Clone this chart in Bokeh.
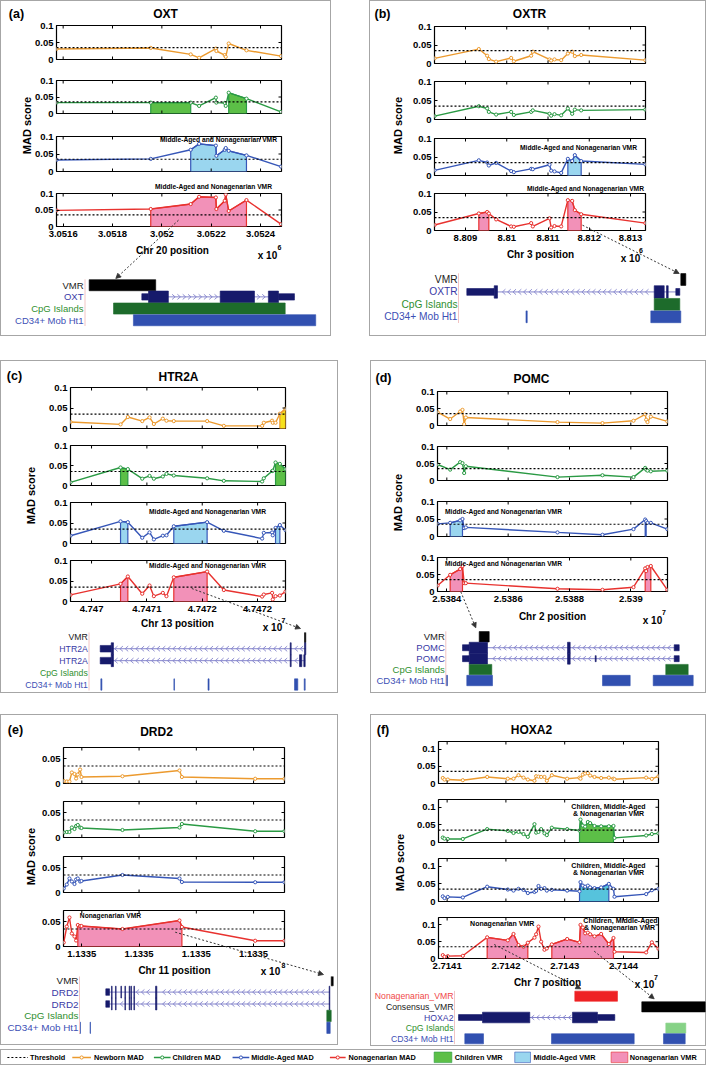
import numpy as np
from bokeh.plotting import figure
from bokeh.models import (Range1d, FixedTicker, Arrow, NormalHead, Span,
                          Spacer, Row, Column)
from bokeh.embed import file_html
from bokeh.resources import INLINE
from bokeh.core.properties import value

FONT = "Liberation Sans"
THRESHOLD = 0.035
SERIES = ["newborn", "children", "middle", "nona"]

# ------------------------------------------------------------------ data
# (a) OXT, chr20
a_pos = [3051573, 3051955, 3052117, 3052151, 3052219, 3052221, 3052255, 3052259, 3052271, 3052343, 3052483]
a_newborn = [0.031, 0.034, 0.015, 0.005, 0.032, 0.025, 0.013, 0.008, 0.047, 0.027, 0.010]
a_children = [0.033, 0.033, 0.033, 0.023, 0.048, 0.033, 0.032, 0.023, 0.063, 0.045, 0.005]
a_middle = [0.033, 0.036, 0.062, 0.079, 0.074, 0.045, 0.062, 0.067, 0.059, 0.046, 0.014]
a_nona = [0.049, 0.053, 0.068, 0.090, 0.088, 0.053, 0.078, 0.097, 0.047, 0.080, 0.007]
a_fills = {"children": [(3051955, 3052117), (3052271, 3052343)],
           "middle": [(3052117, 3052343)],
           "nona": [(3051955, 3052343)]}
a_xticks = [3051600, 3051800, 3052000, 3052200, 3052400]
a_xticklabels = ["3.0516", "3.0518", "3.052", "3.0522", "3.0524"]
a_track_labels = ["VMR", "OXT", "CpG Islands", "CD34+ Mob Ht1"]
a_track_kinds = ["vmr", "gene", "cpg", "cd34"]
a_track_data = [[(3051955, 3052343)],
                dict(line=(3052262, 3053152), utr=[(3052262, 3052301), (3053059, 3053152)],
                     exon=[(3052301, 3052417), (3052719, 3052919), (3053000, 3053059)], strand="+"),
                [(3052097, 3053098)],
                [(3052213, 3053276)]]

# (b) OXTR, chr3
b_pos = [8808250, 8809323, 8809525, 8809566, 8809743, 8810107, 8810172, 8810592, 8810632,
         8811036, 8811077, 8811157, 8811319, 8811481, 8811586, 8811650, 8811804, 8813360]
b_newborn = [0.014, 0.039, 0.021, 0.012, 0.005, 0.015, 0.006, 0.021, 0.032, 0.011, 0.008, 0.011, 0.009, 0.027, 0.032, 0.020, 0.023, 0.009]
b_children = [0.009, 0.035, 0.029, 0.020, 0.013, 0.020, 0.012, 0.020, 0.024, 0.015, 0.010, 0.014, 0.011, 0.029, 0.015, 0.026, 0.024, 0.026]
b_middle = [0.014, 0.041, 0.035, 0.027, 0.034, 0.012, 0.009, 0.018, 0.017, 0.029, 0.013, 0.011, 0.007, 0.045, 0.039, 0.055, 0.039, 0.030]
b_nona = [0.015, 0.046, 0.050, 0.046, 0.030, 0.011, 0.010, 0.020, 0.011, 0.033, 0.008, 0.012, 0.011, 0.082, 0.080, 0.055, 0.044, 0.020]
b_fills = {"middle": [(8811481, 8811804)],
           "nona": [(8809323, 8809566), (8811481, 8811804)]}
b_xticks = [8809000, 8810000, 8811000, 8812000, 8813000]
b_xticklabels = ["8.809", "8.81", "8.811", "8.812", "8.813"]
b_track_labels = ["VMR", "OXTR", "CpG Islands", "CD34+ Mob Ht1"]
b_track_kinds = ["vmr", "gene", "cpg", "cd34"]
b_track_data = [[(8811481, 8811804)],
                dict(line=(8797657, 8811416), utr=[(8797657, 8799427), (8811158, 8811416)],
                     exon=[(8799427, 8799640), (8809763, 8810409), (8810557, 8810667)], strand="-"),
                [(8809763, 8811416)],
                [(8801480, 8801560), (8809543, 8811481)]]

# (c) HTR2A, chr13
c_pos = [47469810, 47470262, 47470328, 47470458, 47470524, 47470563, 47470644, 47470677, 47470743,
         47471044, 47471195, 47471541, 47471556, 47471631, 47471637, 47471662, 47471701, 47471752]
c_newborn = [0.016, 0.010, 0.028, 0.018, 0.027, 0.011, 0.024, 0.019, 0.018, 0.018, 0.0065, 0.0065, 0.014, 0.019, 0.014, 0.014, 0.036, 0.048]
c_children = [0.008, 0.045, 0.041, 0.017, 0.024, 0.017, 0.0225, 0.029, 0.025, 0.018, 0.0117, 0.010, 0.018, 0.036, 0.037, 0.0575, 0.054, 0.041]
c_middle = [0.019, 0.054, 0.052, 0.014, 0.027, 0.010, 0.019, 0.020, 0.042, 0.052, 0.031, 0.012, 0.026, 0.027, 0.020, 0.038, 0.045, 0.0325]
c_nona = [0.016, 0.043, 0.061, 0.019, 0.039, 0.013, 0.021, 0.013, 0.059, 0.073, 0.028, 0.012, 0.017, 0.021, 0.005, 0.013, 0.0146, 0.024]
c_fills = {"newborn": [(47471701, 47471752)],
           "children": [(47470262, 47470328), (47471662, 47471752)],
           "middle": [(47470262, 47470328), (47470743, 47471044), (47471662, 47471701)],
           "nona": [(47470262, 47470328), (47470743, 47471044)]}
c_xticks = [47470000, 47470500, 47471000, 47471500]
c_xticklabels = ["4.747", "4.7471", "4.7472", "4.7472"]
c_track_labels = ["VMR", "HTR2A", "HTR2A", "CpG Islands", "CD34+ Mob Ht1"]
c_track_kinds = ["vmr", "gene", "gene", "cpg", "cd34"]
c_track_data = [[(47470743, 47471044)],
                dict(line=(47423754, 47471042), utr=[(47423754, 47426284)],
                     exon=[(47426284, 47426813), (47467454, 47467684), (47470743, 47471042)], strand="-"),
                dict(line=(47423754, 47470904), utr=[(47423754, 47426284)],
                     exon=[(47426284, 47426813), (47467454, 47467684), (47469593, 47470122), (47470582, 47470904)], strand="-"),
                [],
                [(47423900, 47424150), (47440700, 47440850), (47448550, 47448800), (47468443, 47469202), (47470674, 47470904)]]

# (d) POMC, chr2
d_pos = [25383700, 25384109, 25384435, 25384511, 25384565, 25384620, 25387609, 25389076, 25390087,
         25390468, 25390500, 25390544, 25390652, 25391190]
d_newborn = [0.039, 0.019, 0.041, 0.046, 0.004, 0.0235, 0.010, 0.007, 0.014, 0.033, 0.017, 0.010, 0.026, 0.012]
d_children = [0.047, 0.032, 0.054, 0.051, 0.022, 0.042, 0.010, 0.0155, 0.010, 0.037, 0.032, 0.029, 0.027, 0.029]
d_middle = [0.036, 0.039, 0.046, 0.050, 0.024, 0.026, 0.0117, 0.005, 0.021, 0.0485, 0.044, 0.039, 0.039, 0.021]
d_nona = [0.0176, 0.049, 0.066, 0.075, 0.0245, 0.0245, 0.008, 0.005, 0.0127, 0.068, 0.060, 0.072, 0.075, 0.005]
d_fills = {"middle": [(25384109, 25384511), (25390468, 25390500)],
           "nona": [(25384109, 25384511), (25390468, 25390652)]}
d_xticks = [25384000, 25386000, 25388000, 25390000]
d_xticklabels = ["2.5384", "2.5386", "2.5388", "2.539"]
d_track_labels = ["VMR", "POMC", "POMC", "CpG Islands", "CD34+ Mob Ht1"]
d_track_kinds = ["vmr", "gene", "gene", "cpg", "cd34"]
d_track_data = [[(25384109, 25384511)],
                dict(line=(25383438, 25392149), utr=[(25383438, 25383707), (25391948, 25392149)],
                     exon=[(25383707, 25384443), (25387659, 25387767)], strand="-"),
                dict(line=(25383438, 25392149), utr=[(25383438, 25383707), (25388772, 25388812), (25391948, 25392149)],
                     exon=[(25383707, 25384443), (25387659, 25387767)], strand="-"),
                [(25383707, 25384616), (25391610, 25392510)],
                [(25382782, 25382835), (25383610, 25384644), (25389066, 25390179), (25391104, 25392712)]]

# (e) DRD2, chr11
e_pos = [113345842, 113345869, 113345892, 113345913, 113345936, 113345950, 113345965, 113345985,
         113345997, 113346355, 113346853, 113346874, 113347514, 113347770]
e_newborn = [0.005, 0.004, 0.004, 0.022, 0.019, 0.010, 0.018, 0.028, 0.013, 0.0145, 0.026, 0.013, 0.0095, 0.0095]
e_children = [0.010, 0.011, 0.011, 0.020, 0.017, 0.023, 0.025, 0.020, 0.019, 0.015, 0.020, 0.027, 0.0125, 0.0125]
e_middle = [0.008, 0.016, 0.028, 0.022, 0.017, 0.026, 0.028, 0.022, 0.023, 0.035, 0.028, 0.021, 0.0205, 0.0205]
e_nona = [0.008, 0.040, 0.058, 0.026, 0.020, 0.012, 0.043, 0.041, 0.041, 0.035, 0.052, 0.039, 0.0115, 0.0115]
e_fills = {"nona": [(113345965, 113346874)]}
e_xticks = [113346000, 113346500, 113347000, 113347500]
e_xticklabels = ["1.1335", "1.1335", "1.1335", "1.1335"]
e_track_labels = ["VMR", "DRD2", "DRD2", "CpG Islands", "CD34+ Mob Ht1"]
e_track_kinds = ["vmr", "gene", "gene", "cpg", "cd34"]
e_track_data = [[(113345965, 113346865)],
                dict(line=(113244535, 113345400), utr=[(113244535, 113246200)],
                     exon=[(113247085, 113247385), (113248885, 113249185), (113251315, 113251615),
                           (113253115, 113253415), (113255050, 113255350), (113255815, 113256115),
                           (113257165, 113257465), (113266915, 113267515), (113345050, 113345350)], strand="-"),
                dict(line=(113244535, 113345400), utr=[(113244535, 113246200)],
                     exon=[(113247085, 113247385), (113248885, 113249185),
                           (113253115, 113253415), (113255050, 113255350), (113255815, 113256115),
                           (113257165, 113257465), (113266915, 113267515), (113345050, 113345350)], strand="-"),
                [(113343985, 113345965)],
                [(113232700, 113233150), (113237450, 113237650), (113343985, 113345515)]]

# (f) HOXA2, chr7
f_pos = [27140926, 27140955, 27141011, 27141267, 27141681, 27142032, 27142129, 27142214, 27142299,
         27142373, 27142486, 27142514, 27142554, 27142599, 27142656, 27142696, 27142781, 27143042,
         27143252, 27143269, 27143309, 27143348, 27143394, 27143433, 27143507, 27143620, 27143751,
         27143830, 27143847, 27144386, 27144483, 27144596]
f_newborn = [0.016, 0.0115, 0.0115, 0.0096, 0.019, 0.014, 0.014, 0.024, 0.017, 0.0115, 0.008, 0.021,
             0.020, 0.019, 0.019, 0.008, 0.024, 0.014, 0.017, 0.014, 0.026, 0.029, 0.030, 0.023,
             0.019, 0.016, 0.017, 0.014, 0.0125, 0.017, 0.0135, 0.021]
f_children = [0.014, 0.011, 0.010, 0.010, 0.038, 0.033, 0.027, 0.030, 0.024, 0.016, 0.052, 0.028,
              0.030, 0.038, 0.026, 0.021, 0.042, 0.038, 0.034, 0.065, 0.048, 0.045, 0.058, 0.055,
              0.047, 0.046, 0.046, 0.047, 0.013, 0.020, 0.024, 0.026]
f_middle = [0.0145, 0.0096, 0.013, 0.0115, 0.042, 0.034, 0.031, 0.036, 0.033, 0.024, 0.027, 0.030,
            0.044, 0.036, 0.038, 0.031, 0.033, 0.031, 0.029, 0.055, 0.045, 0.042, 0.045, 0.040,
            0.038, 0.040, 0.050, 0.036, 0.0135, 0.021, 0.032, 0.036]
f_nona = [0.010, 0.005, 0.007, 0.008, 0.063, 0.054, 0.073, 0.040, 0.035, 0.047, 0.062, 0.072,
          0.095, 0.050, 0.026, 0.030, 0.042, 0.058, 0.048, 0.100, 0.092, 0.075, 0.077, 0.072,
          0.066, 0.073, 0.043, 0.061, 0.020, 0.018, 0.048, 0.029]
f_fills = {"children": [(27143252, 27143830)],
           "middle": [(27143252, 27143751)],
           "nona": [(27141681, 27142373), (27142781, 27143830)]}
f_xticks = [27141000, 27142000, 27143000, 27144000]
f_xticklabels = ["2.7141", "2.7142", "2.7143", "2.7144"]
f_track_labels = ["Nonagenarian_VMR", "Consensus_VMR", "HOXA2", "CpG Islands", "CD34+ Mob Ht1"]
f_track_kinds = ["nvmr", "vmr", "gene", "cpg_light", "cd34"]
f_track_data = [[(27142781, 27143831)],
                [(27144429, 27145989)],
                dict(line=(27139920, 27143765), utr=[(27139920, 27140510), (27143339, 27143765)],
                     exon=[(27140510, 27141674), (27142724, 27143339)], strand="-"),
                [(27145020, 27145512)],
                [(27140075, 27140535), (27142208, 27144242), (27144963, 27145497)]]

LEGEND_LABELS = ["Threshold", "Newborn MAD", "Children MAD", "Middle-Aged MAD", "Nonagenarian MAD",
                 "Children VMR", "Middle-Aged VMR", "Nonagenarian VMR"]

# ------------------------------------------------------------------ styles
LINE_C = {"newborn": "#ec9a2e", "children": "#2a9a44", "middle": "#3656b8", "nona": "#e8322f"}
FILL_C = {"newborn": "#f5e11c", "children": "#5cbf47", "middle": "#9ad6ef", "nona": "#f291b8"}
GENE_C, INTRON_C = "#161a6b", "#8585cc"
SEP_C, BORDER_C = "#f2c4c4", "#a6a6a6"
TRACK_STYLE = {"vmr": ("#1a1a1a", "#000000"), "nvmr": ("#f04848", "#ee2124"),
               "gene": ("#3a3aa6", GENE_C), "cpg": ("#2f8f2f", "#1d6b2b"),
               "cpg_light": ("#2f8f2f", "#86d286"), "cd34": ("#3d4fb5", "#3150b0")}
VMR_TXT = "Middle-Aged and Nonagenarian VMR"

PANELS = [
    dict(tag="(a)", title="OXT", chrom="Chr 20 position", exp="6",
         pos=a_pos, series=dict(newborn=a_newborn, children=a_children, middle=a_middle, nona=a_nona),
         fills=a_fills, xticks=a_xticks, xticklabels=a_xticklabels, xrange=(3051573, 3052485),
         ymax=0.1, yticks=[0, 0.05, 0.1], yticklabels=["0", "0.05", "0.1"],
         W=331, H=336, left_w=31, fx=(56, 281), fy=[(25, 59), (80, 113), (136, 171), (193, 226)],
         cuts=[0, 69, 124, 178, 266],
         tag_xy=(16, 13), title_xy=(165, 13), xlabel_xy=(172, 250), exp_xy=(267, 255), sup_xy=(279, 247),
         mad_xy=(26, 125), ann=[(218, 139, VMR_TXT), (213, 186, VMR_TXT)], ann_fs=6.7,
         track_labels=a_track_labels, track_kinds=a_track_kinds, track_data=a_track_data,
         track_range=(3051438, 3053368), r0=284.7, sp=11.67, label_px=83, sep_px=84.5, track_fs=9.5,
         arrows=[((178, 219.7), (115.3, 278))]),
    dict(tag="(b)", title="OXTR", chrom="Chr 3 position", exp="6",
         pos=b_pos, series=dict(newborn=b_newborn, children=b_children, middle=b_middle, nona=b_nona),
         fills=b_fills, xticks=b_xticks, xticklabels=b_xticklabels, xrange=(8808249, 8813363),
         ymax=0.1, yticks=[0, 0.05, 0.1], yticklabels=["0", "0.05", "0.1"],
         W=337, H=336, left_w=36, fx=(65, 276), fy=[(26, 63), (81, 119), (138, 175), (193, 230)],
         cuts=[0, 72, 128, 181, 266],
         tag_xy=(13, 13), title_xy=(160, 13), xlabel_xy=(171, 254), exp_xy=(261, 257.5), sup_xy=(271.5, 250),
         mad_xy=(28, 125), ann=[(209, 147, VMR_TXT), (216, 188, VMR_TXT)], ann_fs=6.7,
         track_labels=b_track_labels, track_kinds=b_track_kinds, track_data=b_track_data,
         track_range=(8791371, 8813141), r0=279, sp=12.43, label_px=88, sep_px=89, track_fs=10.2,
         arrows=[((213, 224.7), (309.7, 273))]),
    dict(tag="(c)", title="HTR2A", chrom="Chr 13 position", exp="7",
         pos=c_pos, series=dict(newborn=c_newborn, children=c_children, middle=c_middle, nona=c_nona),
         fills=c_fills, xticks=c_xticks, xticklabels=c_xticklabels, xrange=(47469810, 47471752),
         ymax=0.1, yticks=[0, 0.05, 0.1], yticklabels=["0", "0.05", "0.1"],
         W=338, H=333, left_w=38, fx=(70, 285), fy=[(27, 68), (85, 125), (142, 183), (200, 241)],
         cuts=[0, 76, 133, 191, 272],
         tag_xy=(14, 15), title_xy=(178, 16), xlabel_xy=(177, 263), exp_xy=(272, 266.5), sup_xy=(283, 260),
         mad_xy=(30, 135), ann=[(207, 151, VMR_TXT), (207, 205, VMR_TXT)], ann_fs=6.7,
         track_labels=c_track_labels, track_kinds=c_track_kinds, track_data=c_track_data,
         track_range=(47400823, 47478563), r0=276.3, sp=11.93, label_px=87.3, sep_px=88.5, track_fs=8.7,
         arrows=[((191.3, 228), (300, 268))]),
    dict(tag="(d)", title="POMC", chrom="Chr 2 position", exp="7",
         pos=d_pos, series=dict(newborn=d_newborn, children=d_children, middle=d_middle, nona=d_nona),
         fills=d_fills, xticks=d_xticks, xticklabels=d_xticklabels, xrange=(25383696, 25391196),
         ymax=0.1, yticks=[0, 0.05, 0.1], yticklabels=["0", "0.05", "0.1"],
         W=336, H=333, left_w=36, fx=(67, 297), fy=[(31, 65), (86, 120), (141, 176), (197, 231)],
         cuts=[0, 75, 131, 186, 268],
         tag_xy=(13, 17), title_xy=(161, 18), xlabel_xy=(182, 256), exp_xy=(282, 260), sup_xy=(293.5, 252),
         mad_xy=(27, 142), ann=[(133, 151, VMR_TXT), (133, 203, VMR_TXT)], ann_fs=6.7,
         track_labels=d_track_labels, track_kinds=d_track_kinds, track_data=d_track_data,
         track_range=(25379739, 25393247), r0=276.3, sp=10.93, label_px=74.3, sep_px=75.3, track_fs=9.5,
         arrows=[((90.3, 231.3), (105.3, 267.3))]),
    dict(tag="(e)", title="DRD2", chrom="Chr 11 position", exp="8",
         pos=e_pos, series=dict(newborn=e_newborn, children=e_children, middle=e_middle, nona=e_nona),
         fills=e_fills, xticks=e_xticks, xticklabels=e_xticklabels, xrange=(113345840, 113347770),
         ymax=0.072, yticks=[0, 0.05], yticklabels=["0", "0.05"],
         W=338, H=331, left_w=37, fx=(63, 284), fy=[(33, 69), (87, 123), (142, 178), (196, 232)],
         cuts=[0, 78, 132, 187, 262],
         tag_xy=(15, 15), title_xy=(156, 17), xlabel_xy=(174, 256), exp_xy=(270, 257), sup_xy=(283, 251),
         mad_xy=(30, 142), ann=[(110, 201, "Nonagenarian VMR")], ann_fs=6.7,
         track_labels=e_track_labels, track_kinds=e_track_kinds, track_data=e_track_data,
         track_range=(113197150, 113349250), r0=265.7, sp=11.9, label_px=78, sep_px=79, track_fs=9.9,
         arrows=[((174.7, 217.7), (323, 260))]),
    dict(tag="(f)", title="HOXA2", chrom="Chr 7 position", exp="7",
         pos=f_pos, series=dict(newborn=f_newborn, children=f_children, middle=f_middle, nona=f_nona),
         fills=f_fills, xticks=f_xticks, xticklabels=f_xticklabels, xrange=(27140853, 27144596),
         ymax=0.122, yticks=[0, 0.05, 0.1], yticklabels=["0", "0.05", "0.1"], mid_fill="#56c3dc",
         W=336, H=332, left_w=37, fx=(68, 288), fy=[(27, 69), (85, 128), (144, 187), (203, 244)],
         cuts=[0, 77, 136, 195, 275],
         tag_xy=(12.5, 15), title_xy=(161, 15), xlabel_xy=(177, 267.5), exp_xy=(274, 269.5), sup_xy=(285.5, 263),
         mad_xy=(29, 148),
         ann=[(238, 91.7, "Children, Middle-Aged"), (238, 98.7, "& Nonagenarian VMR"),
              (238, 151, "Children, Middle-Aged"), (238, 158.3, "& Nonagenarian VMR"),
              (131.7, 209.3, "Nonagenarian VMR"),
              (250, 206, "Children, Middle-Aged"), (249, 213.3, "& Nonagenarian VMR")], ann_fs=7,
         track_labels=f_track_labels, track_kinds=f_track_kinds, track_data=f_track_data,
         track_range=(27137755, 27146021), r0=281.7, sp=10.65, label_px=83, sep_px=84, track_fs=8.7,
         arrows=[((123.7, 230), (210.3, 274.3)), ((223.7, 236.7), (283.7, 284.3))]),
]


# ------------------------------------------------------------------ helpers
def make_fig(w, h, xr, yr, l=0, r=0, t=0, b=0, xaxis=False, yaxis=False):
    p = figure(width=w, height=h, x_range=Range1d(*xr), y_range=Range1d(*yr),
               x_axis_type="linear" if xaxis else None, y_axis_type="linear" if yaxis else None,
               min_border_left=l, min_border_right=r, min_border_top=t, min_border_bottom=b,
               toolbar_location=None, tools="", output_backend="svg", title=None)
    p.background_fill_color = None
    p.border_fill_color = None
    p.outline_line_color = None
    p.grid.visible = False
    return p


def style_axis(ax, standoff):
    ax.axis_line_color = None
    ax.major_tick_in = 3
    ax.major_tick_out = 0
    ax.major_tick_line_color = "black"
    ax.minor_tick_line_color = None
    ax.major_label_standoff = standoff
    ax.major_label_text_font = FONT
    ax.major_label_text_font_size = "9.5px"
    ax.major_label_text_font_style = "bold"
    ax.major_label_text_color = "black"


def put_text(p, x, y, txt, size, bold=True, color="black", align="center", angle=0.0):
    p.text(x=[x], y=[y], text=[txt], angle=angle, text_font=value(FONT),
           text_font_size=value(f"{size}px"), text_font_style="bold" if bold else "normal",
           text_color=color, text_align=align, text_baseline="middle")


def quads(p, spans, row, h, color):
    if not spans:
        return
    p.quad(left=[s for s, e in spans], right=[e for s, e in spans],
           bottom=[row + h / 2] * len(spans), top=[row - h / 2] * len(spans),
           fill_color=color, line_color=color, line_width=0.6)


def build_panel(c):
    W, H, lw = c["W"], c["H"], c["left_w"]
    cuts = c["cuts"]
    fx0, fx1 = c["fx"]
    xr, ymax = c["xrange"], c["ymax"]
    xs = np.array(c["pos"], dtype=float)
    subs = []
    for i, key in enumerate(SERIES):
        fy0, fy1 = c["fy"][i]
        p = make_fig(W - lw, cuts[i + 1] - cuts[i], xr, (0, ymax),
                     l=fx0 - lw, r=W - fx1, t=fy0 - cuts[i], b=cuts[i + 1] - fy1,
                     xaxis=(i == 3), yaxis=True)
        p.outline_line_color = "black"
        p.outline_line_width = 1.2
        ys = np.array(c["series"][key], dtype=float)
        fill = c.get("mid_fill", FILL_C[key]) if key == "middle" else FILL_C[key]
        for s, e in c["fills"].get(key, []):
            m = (xs >= s) & (xs <= e)
            px_, py_ = list(xs[m]), list(ys[m])
            p.patch(px_ + [px_[-1], px_[0]], py_ + [0.0, 0.0], fill_color=fill,
                    line_color=LINE_C[key], line_width=1.2)
        p.add_layout(Span(location=THRESHOLD, dimension="width", line_color="black",
                          line_dash="2 2", line_width=1.2))
        p.line(xs, ys, line_color=LINE_C[key], line_width=1.4)
        p.scatter(xs, ys, marker="circle", size=3.2, line_color=LINE_C[key], fill_color="white",
                  line_width=1)
        # box ticks (inside) on right, top and - for the upper subplots - bottom
        dxu = 3.0 * (xr[1] - xr[0]) / (fx1 - fx0)
        dyu = 3.0 * ymax / (fy1 - fy0)
        yt = [t for t in c["yticks"] if 0 < t < ymax]
        p.segment(x0=[xr[1]] * len(yt), y0=yt, x1=[xr[1] - dxu] * len(yt), y1=yt,
                  line_color="black", line_width=1)
        xt = c["xticks"]
        p.segment(x0=xt, y0=[ymax] * len(xt), x1=xt, y1=[ymax - dyu] * len(xt),
                  line_color="black", line_width=1)
        if i < 3:
            p.segment(x0=xt, y0=[0] * len(xt), x1=xt, y1=[dyu] * len(xt),
                      line_color="black", line_width=1)
        p.yaxis.ticker = FixedTicker(ticks=c["yticks"])
        p.yaxis.major_label_overrides = dict(zip(c["yticks"], c["yticklabels"]))
        style_axis(p.yaxis[0], 3)
        if i == 3:
            p.xaxis.ticker = FixedTicker(ticks=c["xticks"])
            p.xaxis.major_label_overrides = dict(zip(c["xticks"], c["xticklabels"]))
            style_axis(p.xaxis[0], 4)
        subs.append(p)

    # genome browser track
    r0, sp = c["r0"], c["sp"]
    ybot, ytop = (H - r0) / sp, (cuts[4] - r0) / sp
    tr = make_fig(W, H - cuts[4], c["track_range"], (ybot, ytop))
    n = len(c["track_labels"])
    unit = (c["track_range"][1] - c["track_range"][0]) / W

    def tx(px):
        return c["track_range"][0] + px * unit

    for i, (lab, kind, dat) in enumerate(zip(c["track_labels"], c["track_kinds"], c["track_data"])):
        lcol, col = TRACK_STYLE[kind]
        put_text(tr, tx(c["label_px"]), i, lab, c["track_fs"], bold=False, color=lcol, align="right")
        if kind == "gene":
            g0, g1 = dat["line"]
            tr.line([g0, g1], [i, i], line_color=INTRON_C, line_width=1)
            blocks = dat["utr"] + dat["exon"]
            step, margin = 5.3 * unit, 2.5 * unit
            cx = [x for x in np.arange(g0 + step, g1 - step / 2, step)
                  if all(not (b0 - margin <= x <= b1 + margin) for b0, b1 in blocks)]
            d = 1.5 * unit * (1 if dat["strand"] == "+" else -1)
            mx = [[x - d, x + d, x - d] for x in cx]
            my = [[i - 0.22, i, i + 0.22] for x in cx]
            if mx:
                tr.multi_line(mx, my, line_color=INTRON_C, line_width=0.9)
            quads(tr, dat["utr"], i, 0.55, col)
            quads(tr, dat["exon"], i, 1.0, col)
        else:
            quads(tr, dat, i, 0.95, col)
    xs_sep = tx(c["sep_px"])
    tr.segment(x0=[xs_sep], y0=[-0.5], x1=[xs_sep], y1=[n - 0.5], line_color=SEP_C, line_width=1)

    # transparent overlay covering the whole panel: titles, free texts, arrows
    ov = make_fig(W, H, (0, W), (H, 0))
    ov.margin = (-H, 0, 0, 0)
    put_text(ov, *c["tag_xy"], c["tag"], 12.5)
    put_text(ov, *c["title_xy"], c["title"], 12)
    put_text(ov, *c["mad_xy"], "MAD score", 11, angle=np.pi / 2)
    put_text(ov, *c["xlabel_xy"], c["chrom"], 10)
    put_text(ov, *c["exp_xy"], "x 10", 10)
    put_text(ov, *c["sup_xy"], c["exp"], 7)
    for px, py, txt in c["ann"]:
        put_text(ov, px, py, txt, c["ann_fs"])
    for (sx, sy), (ex, ey) in c["arrows"]:
        ov.add_layout(Arrow(x_start=sx, y_start=sy, x_end=ex, y_end=ey,
                            line_color="#333333", line_width=1, line_dash="2 2",
                            end=NormalHead(size=5, fill_color="#333333", line_color="#333333",
                                           line_width=0.8)))

    upper = Row(children=[Spacer(width=lw, height=cuts[4]), Column(children=subs)])
    return Column(children=[upper, tr, ov], styles={"box-shadow": f"inset 0 0 0 1px {BORDER_C}"})


def build_legend():
    leg = make_fig(706, 16, (2, 720), (0, 1))
    leg.styles = {"box-shadow": f"inset 0 0 0 1px {BORDER_C}"}
    slots = [(9, 30, 32), (75, 94, 97), (158, 175, 177), (238, 255, 257), (337, 353, 356),
             (443, 461, 464), (525, 541, 544), (623, 640, 642)]
    kinds = [("thr", None), ("line", "newborn"), ("line", "children"), ("line", "middle"),
             ("line", "nona"), ("patch", "children"), ("patch", "middle"), ("patch", "nona")]
    for lab, (x0, x1, t), (k, key) in zip(LEGEND_LABELS, slots, kinds):
        if k == "thr":
            leg.line([x0, x1], [0.5, 0.5], line_color="black", line_dash="2 2", line_width=1.1)
        elif k == "line":
            leg.line([x0, x1], [0.5, 0.5], line_color=LINE_C[key], line_width=1.3)
            leg.scatter([(x0 + x1) / 2], [0.5], marker="circle", size=3.2, line_color=LINE_C[key],
                        fill_color="white")
        else:
            leg.quad(left=[x0], right=[x1], bottom=[0.18], top=[0.84], fill_color=FILL_C[key],
                     line_color=LINE_C[key], line_width=0.6)
        put_text(leg, t, 0.5, lab, 7.3, align="left")
    return leg


pa, pb, pc, pd, pe, pf = [build_panel(c) for c in PANELS]
row1 = Row(children=[pa, Spacer(width=38, height=336), pb])
row2 = Row(children=[pc, Spacer(width=32, height=333), pd])
row3 = Row(children=[pe, Spacer(width=32, height=332), pf])
root = Column(children=[row1, Spacer(width=706, height=24), row2, Spacer(width=706, height=21),
                        row3, Spacer(width=706, height=3), build_legend()])

open("out.html", "w").write(file_html(root, INLINE, title="MAD score panels"))
